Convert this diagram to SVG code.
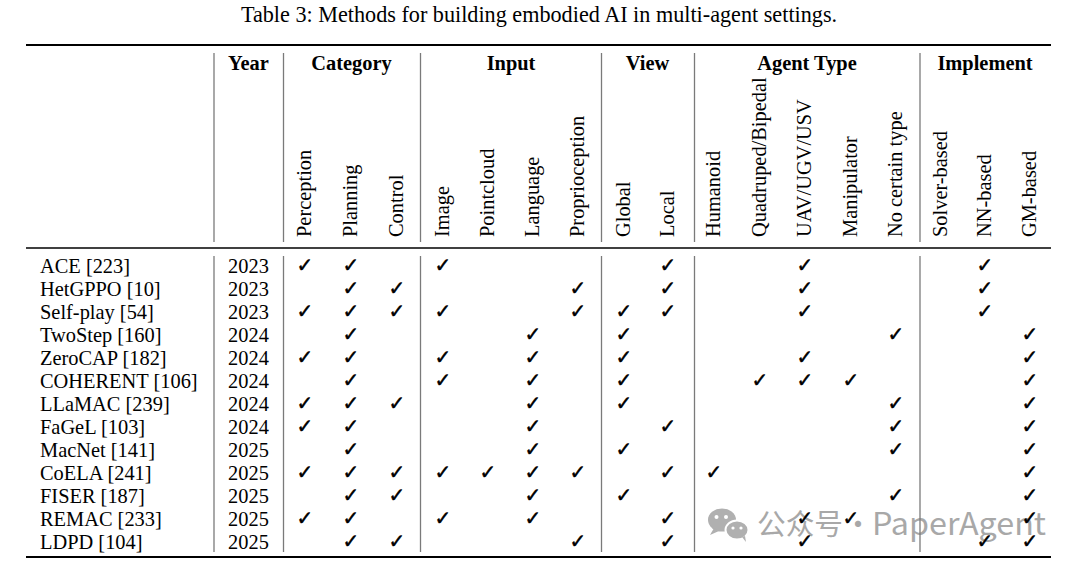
<svg xmlns="http://www.w3.org/2000/svg" width="1080" height="569" viewBox="0 0 1080 569">
<style>
text{font-family:"Liberation Serif","Times New Roman",serif;font-size:20.4px;fill:#000}
.b{font-weight:bold}
.m{text-anchor:middle}
.t{font-size:22.2px}
.ck{font-family:"DejaVu Sans",sans-serif;font-size:20px;text-anchor:middle;stroke:#000;stroke-width:0.5}
.vl{stroke:#7a7a7a;stroke-width:1.3}
.r1{stroke:#000;stroke-width:2}
.r2{stroke:#000;stroke-width:1.4}
.wm{font-family:"Noto Sans CJK SC","Noto Sans",sans-serif;font-size:29px;fill:#a8a8a8}
.wi{fill:#b0b0b0}
</style>
<rect width="1080" height="569" fill="#fff"/>
<text id="title" class="m t" x="539" y="22">Table 3: Methods for building embodied AI in multi-agent settings.</text>
<g id="watermark">
<ellipse class="wi" cx="722" cy="520" rx="14" ry="11.5"/>
<path class="wi" d="M714 528 l-4 7 l9 -4 z"/>
<ellipse class="wi" cx="737" cy="530" rx="11.5" ry="9.5" stroke="#fff" stroke-width="2"/>
<path class="wi" d="M742 537 l4 5 l-1 -6 z"/>
<circle cx="716.5" cy="517" r="2" fill="#fff"/><circle cx="726" cy="517" r="2" fill="#fff"/>
<circle cx="733" cy="528" r="1.6" fill="#fff"/><circle cx="741" cy="528" r="1.6" fill="#fff"/>
<text class="wm" x="757" y="535" textLength="86" lengthAdjust="spacingAndGlyphs">公众号</text>
<text class="wm" x="858" y="535" text-anchor="middle">·</text>
<text class="wm" x="872" y="535" textLength="174" lengthAdjust="spacingAndGlyphs" style="font-size:31px">PaperAgent</text>
</g>
<g id="rules">
<line class="r1" x1="26" y1="45" x2="1051" y2="45"/>
<line class="r2" x1="26" y1="248" x2="1051" y2="248"/>
<line class="r1" x1="26" y1="557" x2="1051" y2="557"/>
<g id="vlines">
<line class="vl" x1="214" y1="53" x2="214" y2="242"/><line class="vl" x1="214" y1="256" x2="214" y2="552"/>
<line class="vl" x1="283.5" y1="53" x2="283.5" y2="242"/><line class="vl" x1="283.5" y1="256" x2="283.5" y2="552"/>
<line class="vl" x1="420.5" y1="53" x2="420.5" y2="242"/><line class="vl" x1="420.5" y1="256" x2="420.5" y2="552"/>
<line class="vl" x1="601.5" y1="53" x2="601.5" y2="242"/><line class="vl" x1="601.5" y1="256" x2="601.5" y2="552"/>
<line class="vl" x1="694.5" y1="53" x2="694.5" y2="242"/><line class="vl" x1="694.5" y1="256" x2="694.5" y2="552"/>
<line class="vl" x1="920" y1="53" x2="920" y2="242"/><line class="vl" x1="920" y1="256" x2="920" y2="552"/>
</g>
</g>
<g id="header">
<text class="b m" x="248.5" y="70">Year</text>
<text class="b m" x="351.5" y="70">Category</text>
<text class="b m" x="511" y="70">Input</text>
<text class="b m" x="647.5" y="70">View</text>
<text class="b m" x="807" y="70">Agent Type</text>
<text class="b m" x="985" y="70">Implement</text>
<text transform="translate(311,237) rotate(-90)">Perception</text>
<text transform="translate(357,237) rotate(-90)">Planning</text>
<text transform="translate(403,237) rotate(-90)">Control</text>
<text transform="translate(449,237) rotate(-90)">Image</text>
<text transform="translate(494,237) rotate(-90)">Pointcloud</text>
<text transform="translate(539,237) rotate(-90)">Language</text>
<text transform="translate(584,237) rotate(-90)">Proprioception</text>
<text transform="translate(630,237) rotate(-90)">Global</text>
<text transform="translate(674,237) rotate(-90)">Local</text>
<text transform="translate(720,237) rotate(-90)">Humanoid</text>
<text transform="translate(766,237) rotate(-90)">Quadruped/Bipedal</text>
<text transform="translate(811,237) rotate(-90)">UAV/UGV/USV</text>
<text transform="translate(857,237) rotate(-90)">Manipulator</text>
<text transform="translate(902,237) rotate(-90)">No certain type</text>
<text transform="translate(947,237) rotate(-90)">Solver-based</text>
<text transform="translate(991,237) rotate(-90)">NN-based</text>
<text transform="translate(1036,237) rotate(-90)">GM-based</text>
</g>
<g id="names">
<text x="40" y="272.5">ACE [223]</text>
<text x="40" y="295.5">HetGPPO [10]</text>
<text x="40" y="318.5">Self-play [54]</text>
<text x="40" y="341.5">TwoStep [160]</text>
<text x="40" y="364.5">ZeroCAP [182]</text>
<text x="40" y="387.5">COHERENT [106]</text>
<text x="40" y="410.5">LLaMAC [239]</text>
<text x="40" y="433.5">FaGeL [103]</text>
<text x="40" y="456.5">MacNet [141]</text>
<text x="40" y="479.5">CoELA [241]</text>
<text x="40" y="502.5">FISER [187]</text>
<text x="40" y="525.5">REMAC [233]</text>
<text x="40" y="548.5">LDPD [104]</text>
</g>
<g id="years">
<text class="m" x="248.5" y="272.5">2023</text>
<text class="m" x="248.5" y="295.5">2023</text>
<text class="m" x="248.5" y="318.5">2023</text>
<text class="m" x="248.5" y="341.5">2024</text>
<text class="m" x="248.5" y="364.5">2024</text>
<text class="m" x="248.5" y="387.5">2024</text>
<text class="m" x="248.5" y="410.5">2024</text>
<text class="m" x="248.5" y="433.5">2024</text>
<text class="m" x="248.5" y="456.5">2025</text>
<text class="m" x="248.5" y="479.5">2025</text>
<text class="m" x="248.5" y="502.5">2025</text>
<text class="m" x="248.5" y="525.5">2025</text>
<text class="m" x="248.5" y="548.5">2025</text>
</g>
<g id="checks">
<g id="r-ace"><text class="ck" x="305" y="272">✓</text><text class="ck" x="351" y="272">✓</text><text class="ck" x="443" y="272">✓</text><text class="ck" x="668" y="272">✓</text><text class="ck" x="805" y="272">✓</text><text class="ck" x="985" y="272">✓</text></g>
<g id="r-hetgppo"><text class="ck" x="351" y="295">✓</text><text class="ck" x="397" y="295">✓</text><text class="ck" x="578" y="295">✓</text><text class="ck" x="668" y="295">✓</text><text class="ck" x="805" y="295">✓</text><text class="ck" x="985" y="295">✓</text></g>
<g id="r-selfplay"><text class="ck" x="305" y="318">✓</text><text class="ck" x="351" y="318">✓</text><text class="ck" x="397" y="318">✓</text><text class="ck" x="443" y="318">✓</text><text class="ck" x="578" y="318">✓</text><text class="ck" x="624" y="318">✓</text><text class="ck" x="668" y="318">✓</text><text class="ck" x="805" y="318">✓</text><text class="ck" x="985" y="318">✓</text></g>
<g id="r-twostep"><text class="ck" x="351" y="341">✓</text><text class="ck" x="533" y="341">✓</text><text class="ck" x="624" y="341">✓</text><text class="ck" x="896" y="341">✓</text><text class="ck" x="1030" y="341">✓</text></g>
<g id="r-zerocap"><text class="ck" x="305" y="364">✓</text><text class="ck" x="351" y="364">✓</text><text class="ck" x="443" y="364">✓</text><text class="ck" x="533" y="364">✓</text><text class="ck" x="624" y="364">✓</text><text class="ck" x="805" y="364">✓</text><text class="ck" x="1030" y="364">✓</text></g>
<g id="r-coherent"><text class="ck" x="351" y="387">✓</text><text class="ck" x="443" y="387">✓</text><text class="ck" x="533" y="387">✓</text><text class="ck" x="624" y="387">✓</text><text class="ck" x="760" y="387">✓</text><text class="ck" x="805" y="387">✓</text><text class="ck" x="851" y="387">✓</text><text class="ck" x="1030" y="387">✓</text></g>
<g id="r-llamac"><text class="ck" x="305" y="410">✓</text><text class="ck" x="351" y="410">✓</text><text class="ck" x="397" y="410">✓</text><text class="ck" x="533" y="410">✓</text><text class="ck" x="624" y="410">✓</text><text class="ck" x="896" y="410">✓</text><text class="ck" x="1030" y="410">✓</text></g>
<g id="r-fagel"><text class="ck" x="305" y="433">✓</text><text class="ck" x="351" y="433">✓</text><text class="ck" x="533" y="433">✓</text><text class="ck" x="668" y="433">✓</text><text class="ck" x="896" y="433">✓</text><text class="ck" x="1030" y="433">✓</text></g>
<g id="r-macnet"><text class="ck" x="351" y="456">✓</text><text class="ck" x="533" y="456">✓</text><text class="ck" x="624" y="456">✓</text><text class="ck" x="896" y="456">✓</text><text class="ck" x="1030" y="456">✓</text></g>
<g id="r-coela"><text class="ck" x="305" y="479">✓</text><text class="ck" x="351" y="479">✓</text><text class="ck" x="397" y="479">✓</text><text class="ck" x="443" y="479">✓</text><text class="ck" x="488" y="479">✓</text><text class="ck" x="533" y="479">✓</text><text class="ck" x="578" y="479">✓</text><text class="ck" x="668" y="479">✓</text><text class="ck" x="714" y="479">✓</text><text class="ck" x="1030" y="479">✓</text></g>
<g id="r-fiser"><text class="ck" x="351" y="502">✓</text><text class="ck" x="397" y="502">✓</text><text class="ck" x="533" y="502">✓</text><text class="ck" x="624" y="502">✓</text><text class="ck" x="896" y="502">✓</text><text class="ck" x="1030" y="502">✓</text></g>
<g id="r-remac"><text class="ck" x="305" y="525">✓</text><text class="ck" x="351" y="525">✓</text><text class="ck" x="443" y="525">✓</text><text class="ck" x="533" y="525">✓</text><text class="ck" x="668" y="525">✓</text><text class="ck" x="805" y="525">✓</text><text class="ck" x="851" y="525">✓</text><text class="ck" x="1030" y="525">✓</text></g>
<g id="r-ldpd"><text class="ck" x="351" y="548">✓</text><text class="ck" x="397" y="548">✓</text><text class="ck" x="578" y="548">✓</text><text class="ck" x="668" y="548">✓</text><text class="ck" x="805" y="548">✓</text><text class="ck" x="985" y="548">✓</text><text class="ck" x="1030" y="548">✓</text></g>
</g>
</svg>
